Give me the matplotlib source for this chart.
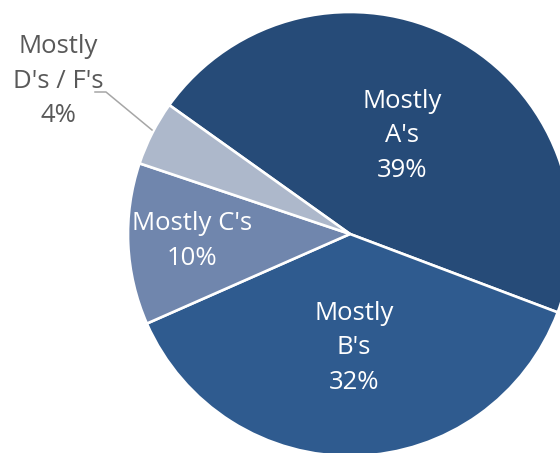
import matplotlib.pyplot as plt

labels = ["Mostly\nA's", "Mostly\nB's", "Mostly C's", "Mostly\nD's / F's"]
values = [39, 32, 10, 4]
pct_text = ["39%", "32%", "10%", "4%"]
colors = ['#264B78', '#2F5B8F', '#7086AD', '#ADB8CB']

plt.rcParams['font.family'] = ['Open Sans', 'DejaVu Sans']

fig = plt.figure(figsize=(5.6, 4.53), dpi=100)
ax = fig.add_axes([0, 0, 1, 1])

# pie is bigger than the figure, cut off on the right and bottom
cx, cy, r = 350, 453 - 234, 222
wedges, _ = ax.pie(values, colors=colors, startangle=144.5, counterclock=False,
                   center=(cx, cy), radius=r,
                   wedgeprops=dict(edgecolor='white', linewidth=1.9))

ax.set_xlim(0, 560)
ax.set_ylim(0, 453)
ax.set_aspect('equal')
ax.axis('off')

# label positions in pixel coords (y from top)
label_pos = [(402, 136), (354, 348), (192, 241), (58, 81)]
text_colors = ['white', 'white', 'white', '#595959']
for lab, pct, (x, y), c in zip(labels, pct_text, label_pos, text_colors):
    ax.text(x, 453 - y, lab + '\n' + pct, ha='center', va='center',
            fontsize=18.5, color=c, linespacing=1.48)

# leader line for the small slice
ax.plot([95, 106, 152], [453 - 92, 453 - 92, 453 - 130], color='#A6A6A6', lw=1.1)

fig.savefig('out.png', dpi=100)
